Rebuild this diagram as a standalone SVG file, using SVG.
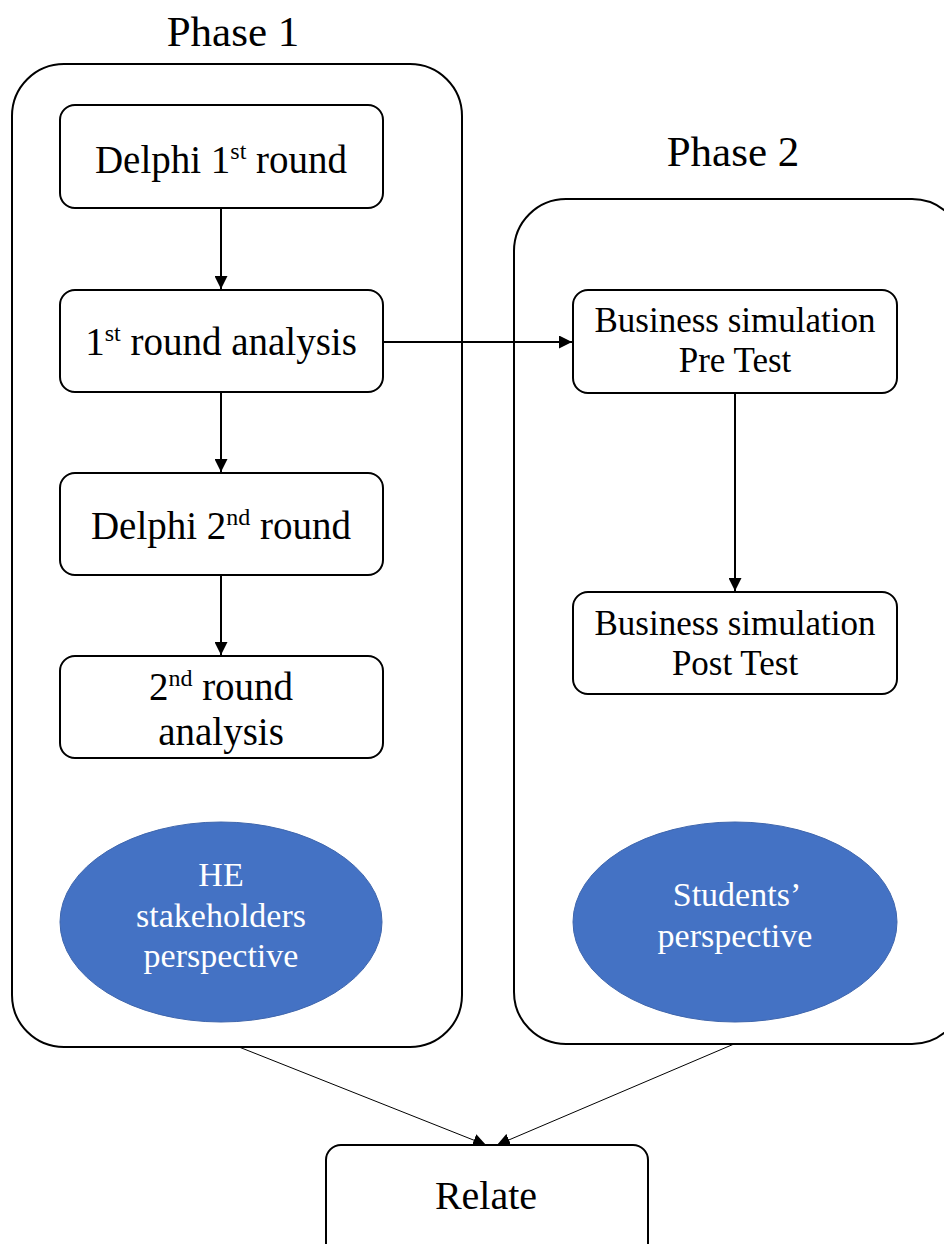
<svg xmlns="http://www.w3.org/2000/svg" width="944" height="1244" viewBox="0 0 944 1244">
<style>
text{font-family:"Liberation Serif","Times New Roman",serif;fill:#000;text-anchor:middle}
.title{font-size:43px}
.lbl{font-size:39px}
.lbl2{font-size:35px}
.rel{font-size:40px}
.ell{font-size:34px;fill:#fff}
.sup{font-size:24px}
.cont{fill:#fff;stroke:#000;stroke-width:2}
.box{fill:#fff;stroke:#000;stroke-width:2}
.el{fill:#4472C4;stroke:#3f66ad;stroke-width:1}
.arr{stroke:#000;stroke-width:2;fill:none}
.thin{stroke:#000;stroke-width:1;fill:none}
</style>
<defs>
<marker id="ah" viewBox="0 0 10 10" refX="10" refY="5" markerWidth="6.5" markerHeight="6.5" markerUnits="strokeWidth" orient="auto">
<path d="M0,0 L10,5 L0,10 z" fill="#000"/>
</marker>
<marker id="ah2" viewBox="0 0 10 10" refX="10" refY="5" markerWidth="13" markerHeight="13" markerUnits="strokeWidth" orient="auto">
<path d="M0,0 L10,5 L0,10 z" fill="#000"/>
</marker>
</defs>
<rect width="944" height="1244" fill="#fff"/>

<g id="phase1">
<text class="title" x="233" y="46">Phase 1</text>
<rect class="cont" x="12" y="64" width="450" height="983" rx="52" ry="52"/>
</g>
<g id="phase2">
<text class="title" x="733" y="166">Phase 2</text>
<rect class="cont" x="514" y="199" width="450" height="845" rx="52" ry="52"/>
</g>

<g id="connectors">
<line class="arr" x1="221" y1="208" x2="221" y2="289" marker-end="url(#ah)"/>
<line class="arr" x1="221" y1="392" x2="221" y2="472" marker-end="url(#ah)"/>
<line class="arr" x1="221" y1="575" x2="221" y2="655" marker-end="url(#ah)"/>
<line class="arr" x1="383" y1="342" x2="572" y2="342" marker-end="url(#ah)"/>
<line class="arr" x1="735" y1="393" x2="735" y2="591" marker-end="url(#ah)"/>
<line class="thin" x1="239" y1="1047" x2="486" y2="1145" marker-end="url(#ah2)"/>
<line class="thin" x1="734" y1="1044" x2="497" y2="1145" marker-end="url(#ah2)"/>
</g>

<g id="delphi1">
<rect class="box" x="60" y="105" width="323" height="103" rx="15" ry="15"/>
<text class="lbl" x="221" y="173">Delphi 1<tspan class="sup" dy="-14">st</tspan><tspan dy="14"> round</tspan></text>
</g>
<g id="analysis1">
<rect class="box" x="60" y="290" width="323" height="102" rx="15" ry="15"/>
<text class="lbl" x="221" y="355">1<tspan class="sup" dy="-14">st</tspan><tspan dy="14"> round analysis</tspan></text>
</g>
<g id="delphi2">
<rect class="box" x="60" y="473" width="323" height="102" rx="15" ry="15"/>
<text class="lbl" x="221" y="539">Delphi 2<tspan class="sup" dy="-14">nd</tspan><tspan dy="14"> round</tspan></text>
</g>
<g id="analysis2">
<rect class="box" x="60" y="656" width="323" height="102" rx="15" ry="15"/>
<text class="lbl" x="221" y="700">2<tspan class="sup" dy="-14">nd</tspan><tspan dy="14"> round</tspan></text>
<text class="lbl" x="221" y="745">analysis</text>
</g>
<g id="he">
<ellipse class="el" cx="221" cy="922" rx="161" ry="100"/>
<text class="ell" x="221" y="886">HE</text>
<text class="ell" x="221" y="927">stakeholders</text>
<text class="ell" x="221" y="967">perspective</text>
</g>

<g id="pretest">
<rect class="box" x="573" y="290" width="324" height="103" rx="15" ry="15"/>
<text class="lbl2" x="735" y="332">Business simulation</text>
<text class="lbl2" x="735" y="372">Pre Test</text>
</g>
<g id="posttest">
<rect class="box" x="573" y="592" width="324" height="102" rx="15" ry="15"/>
<text class="lbl2" x="735" y="635">Business simulation</text>
<text class="lbl2" x="735" y="675">Post Test</text>
</g>
<g id="students">
<ellipse class="el" cx="735" cy="922" rx="162" ry="100"/>
<text class="ell" x="737" y="906">Students’</text>
<text class="ell" x="735" y="947">perspective</text>
</g>

<g id="relate">
<rect class="box" x="326" y="1145" width="322" height="120" rx="15" ry="15"/>
<text class="rel" x="486" y="1209">Relate</text>
</g>
</svg>
